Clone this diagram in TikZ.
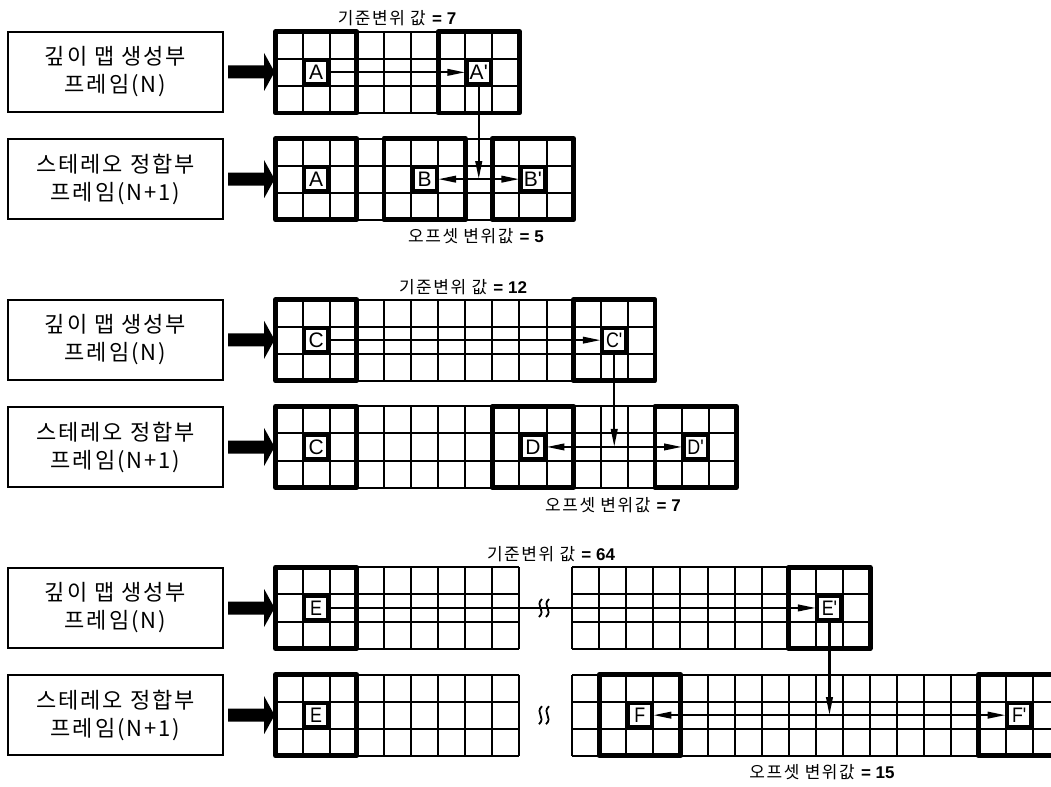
\documentclass[tikz,border=0pt]{standalone}
\usepackage{fontspec}
\setmainfont{Liberation Sans}
\newfontfamily\kr[LetterSpace=9]{Noto Sans CJK KR}
\usetikzlibrary{arrows.meta}
\def\cellw{27.1}
\newcommand\gridrow[3]{%
  \foreach \i in {0,...,#3} \draw[thinln] ({#1+\i*\cellw},#2) -- ++(0,{3*\cellw});
  \foreach \j in {0,...,3} \draw[thinln] (#1,{#2+\j*\cellw}) -- ++({#3*\cellw},0);
}
\newcommand\blkat[3]{\draw[blkln] ({#1+#3*\cellw},#2) rectangle ++({3*\cellw},{3*\cellw});}
\newcommand\fatarrow[1]{\fill (#1) ++(4,-6.5) -- ++(36,0) -- ++(0,-12.5) -- ++(10.5,19) -- ++(-10.5,19) -- ++(0,-12.5) -- ++(-36,0) -- cycle;}
\newcommand\brkmark[2]{%
  \draw[line width=1.8bp] ({#1-3.5+1.5},{#2-9}) .. controls ({#1-3.5-6},{#2-2}) and ({#1-3.5+6},{#2+2}) .. ({#1-3.5-1.5},{#2+9});
  \draw[line width=1.8bp] ({#1+3.5+1.5},{#2-9}) .. controls ({#1+3.5-6},{#2-2}) and ({#1+3.5+6},{#2+2}) .. ({#1+3.5-1.5},{#2+9});
}
\begin{document}
\begin{tikzpicture}[x=1bp,y=-1bp,
  thinln/.style={line width=2bp},
  blkln/.style={line width=4.8bp,line join=round},
  letterbox/.style={draw,line width=3.5bp,fill=white,minimum size=23.5bp,inner sep=0pt,font=\fontsize{21bp}{21bp}\selectfont},
  sidebox/.style={draw,line width=2.2bp,minimum width=215bp,minimum height=80bp,align=center,inner sep=0pt,font=\kr\fontsize{22bp}{28bp}\selectfont},
  lab/.style={inner sep=0pt,font=\fontsize{17bp}{20bp}\selectfont},
  conn/.style={line width=2.2bp},
  onehead/.style={-{Triangle[length=18bp,width=6.5bp]}},
  twohead/.style={{Triangle[length=18bp,width=6.5bp]}-{Triangle[length=18bp,width=6.5bp]}}
]
\useasboundingbox (0,0) rectangle (1051,787);
\clip (0,0) rectangle (1051,787);
\fill[white] (0,0) rectangle (1051,787);

% ================= group 1 =================
\node[sidebox] (L1) at (115.5,72) {깊이 맵 생성부\\프레임(N)};
\node[sidebox] (L2) at (115.5,179.2) {스테레오 정합부\\프레임(N+1)};
\fatarrow{L1.east}
\fatarrow{L2.east}
\gridrow{275.5}{31.7}{9}
\gridrow{275.5}{138.5}{11}
\blkat{275.5}{31.7}{0}
\blkat{275.5}{31.7}{6}
\blkat{275.5}{138.5}{0}
\blkat{275.5}{138.5}{4}
\blkat{275.5}{138.5}{8}
\node[letterbox] (A1) at ({275.5+1.5*\cellw},{31.7+1.5*\cellw}) {A};
\node[letterbox] (A1p) at ({275.5+7.5*\cellw},{31.7+1.5*\cellw}) {A\textquotesingle};
\node[letterbox] (A2) at ({275.5+1.5*\cellw},{138.5+1.5*\cellw}) {A};
\node[letterbox] (B) at ({275.5+5.5*\cellw},{138.5+1.5*\cellw}) {B};
\node[letterbox] (Bp) at ({275.5+9.5*\cellw},{138.5+1.5*\cellw}) {B\textquotesingle};
\draw[conn,onehead] (A1.east) -- (A1p.west);
\draw[conn,onehead] (A1p.south) -- (A1p.south |- B.east);
\draw[conn,twohead] (B.east) -- (Bp.west);
\node[lab] (k1) at (397,18) {{\kr 기준변위 값} \textbf{= 7}};
\node[lab] (o1) at (476,236) {{\kr 오프셋 변위값} \textbf{= 5}};

% ================= group 2 =================
\node[sidebox] (L3) at (115.5,339.8) {깊이 맵 생성부\\프레임(N)};
\node[sidebox] (L4) at (115.5,447) {스테레오 정합부\\프레임(N+1)};
\fatarrow{L3.east}
\fatarrow{L4.east}
\gridrow{275.5}{299.5}{14}
\gridrow{275.5}{406.3}{17}
\blkat{275.5}{299.5}{0}
\blkat{275.5}{299.5}{11}
\blkat{275.5}{406.3}{0}
\blkat{275.5}{406.3}{8}
\blkat{275.5}{406.3}{14}
\node[letterbox] (C1) at ({275.5+1.5*\cellw},{299.5+1.5*\cellw}) {C};
\node[letterbox] (C1p) at ({275.5+12.5*\cellw},{299.5+1.5*\cellw}) {\scalebox{0.85}[1]{C\textquotesingle}};
\node[letterbox] (C2) at ({275.5+1.5*\cellw},{406.3+1.5*\cellw}) {C};
\node[letterbox] (D) at ({275.5+9.5*\cellw},{406.3+1.5*\cellw}) {D};
\node[letterbox] (Dp) at ({275.5+15.5*\cellw},{406.3+1.5*\cellw}) {\scalebox{0.85}[1]{D\textquotesingle}};
\draw[conn,onehead] (C1.east) -- (C1p.west);
\draw[conn,onehead] (C1p.south) -- (C1p.south |- D.east);
\draw[conn,twohead] (D.east) -- (Dp.west);
\node[lab] (k2) at (463,287) {{\kr 기준변위 값} \textbf{= 12}};
\node[lab] (o2) at (613,505) {{\kr 오프셋 변위값} \textbf{= 7}};

% ================= group 3 =================
\node[sidebox] (L5) at (115.5,608) {깊이 맵 생성부\\프레임(N)};
\node[sidebox] (L6) at (115.5,715.2) {스테레오 정합부\\프레임(N+1)};
\fatarrow{L5.east}
\fatarrow{L6.east}
\gridrow{275.5}{567.3}{9}
\gridrow{572}{567.3}{11}
\gridrow{275.5}{674.5}{9}
\gridrow{572}{674.5}{18}
\blkat{275.5}{567.3}{0}
\blkat{572}{567.3}{8}
\blkat{275.5}{674.5}{0}
\blkat{572}{674.5}{1}
\blkat{572}{674.5}{15}
\node[letterbox] (E1) at ({275.5+1.5*\cellw},{567.3+1.5*\cellw}) {\scalebox{0.85}[1]{E}};
\node[letterbox] (E1p) at ({572+9.5*\cellw},{567.3+1.5*\cellw}) {\scalebox{0.85}[1]{E\textquotesingle}};
\node[letterbox] (E2) at ({275.5+1.5*\cellw},{674.5+1.5*\cellw}) {\scalebox{0.85}[1]{E}};
\node[letterbox] (F) at ({572+2.5*\cellw},{674.5+1.5*\cellw}) {\scalebox{0.85}[1]{F}};
\node[letterbox] (Fp) at ({572+16.5*\cellw},{674.5+1.5*\cellw}) {\scalebox{0.85}[1]{F\textquotesingle}};
\draw[conn,onehead] (E1.east) -- (E1p.west);
\draw[conn,onehead] (E1p.south) -- (E1p.south |- F.east);
\draw[conn,twohead] (F.east) -- (Fp.west);
\brkmark{544}{608}
\brkmark{544}{715.2}
\node[lab] (k3) at (551,554) {{\kr 기준변위 값} \textbf{= 64}};
\node[lab] (o3) at (822,772) {{\kr 오프셋 변위값} \textbf{= 15}};
\end{tikzpicture}
\end{document}
